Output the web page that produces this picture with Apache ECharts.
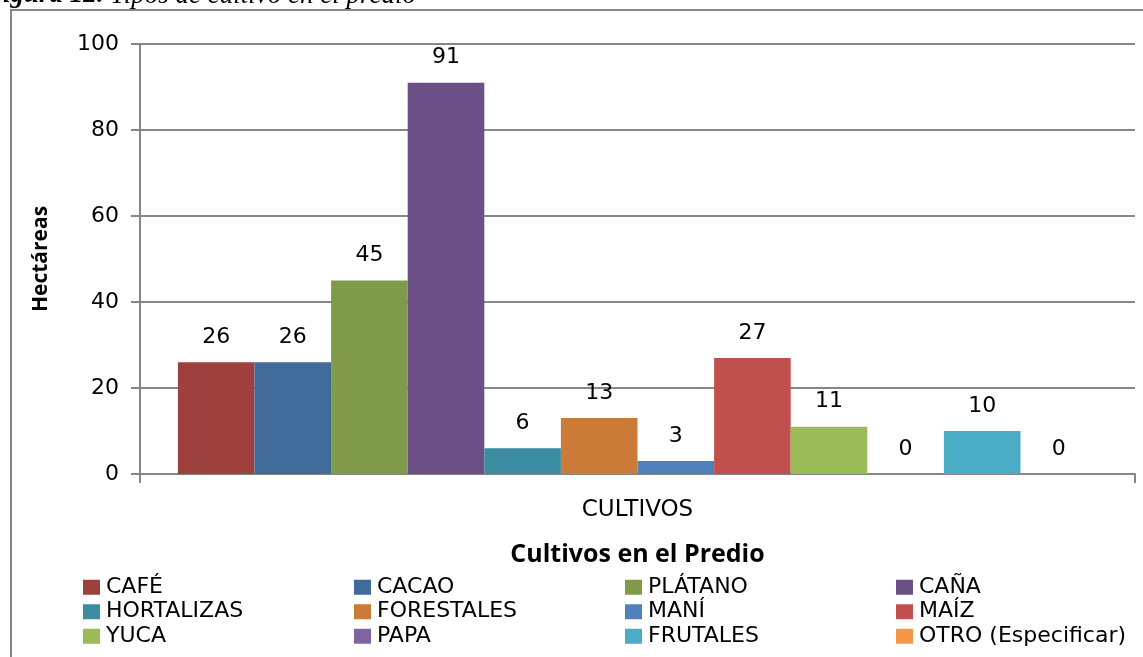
<!DOCTYPE html>
<html>
<head>
<meta charset="utf-8">
<script src="https://cdn.jsdelivr.net/npm/echarts@6/dist/echarts.min.js"></script>
<style>
  html, body { margin: 0; padding: 0; background: #fff; }
  #chart { width: 1143px; height: 657px; }
</style>
</head>
<body>
<div id="chart"></div>
<script>
const categories = ['CULTIVOS'];
const cropNames = ['CAFÉ', 'CACAO', 'PLÁTANO', 'CAÑA', 'HORTALIZAS', 'FORESTALES',
  'MANÍ', 'MAÍZ', 'YUCA', 'PAPA', 'FRUTALES', 'OTRO (Especificar)'];
const hectares = [26, 26, 45, 91, 6, 13, 3, 27, 11, 0, 10, 0];
const yTicks = [0, 20, 40, 60, 80, 100];

const colors = ['#9e413e', '#3f6a9a', '#7f9a48', '#6a5086', '#3b8ca1', '#cc7a38',
  '#4f81bd', '#c0504d', '#9bbb59', '#8064a2', '#4bacc6', '#f79646'];
// the reference text is a stretched Calibri; DejaVu Sans matches its widths best
const font = '"DejaVu Sans", sans-serif';
const boldFont = '"Open Sans", "Noto Sans", sans-serif';
const gray = '#868686';

const chart = echarts.init(document.getElementById('chart'));

const series = cropNames.map((name, i) => ({
  name,
  type: 'bar',
  data: [hectares[i]],
  barWidth: 76.6,
  barGap: '0%',
  itemStyle: { color: colors[i] },
  label: {
    show: true,
    position: 'top',
    distance: 14,
    color: '#000',
    fontFamily: font,
    fontSize: 22,
  },
}));

chart.setOption({
  animation: false,
  color: colors,
  graphic: [
    {
      type: 'rect',
      shape: { x: 11, y: 10, width: 1200, height: 700 },
      style: { fill: 'none', stroke: gray, lineWidth: 2 },
      silent: true,
    },
    {
      type: 'text',
      x: -15,
      y: 9,
      style: {
        text: '{b|Figura 12.} Tipos de cultivo en el predio',
        font: 'italic 27px "Liberation Serif", serif',
        verticalAlign: 'bottom',
        fill: '#000',
        rich: { b: { fontWeight: 'bold', fontStyle: 'italic', fontSize: 27, fontFamily: '"Liberation Serif", serif' } },
      },
    },
  ],
  grid: { left: 140, right: 8, top: 44, bottom: 183 },
  legend: {
    data: cropNames,
    left: 83,
    top: 575,
    width: 1090,
    padding: 0,
    itemWidth: 17,
    itemHeight: 15,
    itemGap: 0,
    icon: 'rect',
    textStyle: {
      fontFamily: font,
      fontSize: 22,
      color: '#000',
      width: 248,
      lineHeight: 24.5,
      padding: [0, 0, 0, 1],
    },
  },
  xAxis: {
    type: 'category',
    data: categories,
    name: 'Cultivos en el Predio',
    nameLocation: 'middle',
    nameGap: 68,
    nameTextStyle: { fontFamily: boldFont, fontSize: 25, fontWeight: 'bold', color: '#000' },
    axisLine: { lineStyle: { color: gray, width: 2 } },
    axisTick: { show: true, length: 9, lineStyle: { color: gray, width: 2 } },
    axisLabel: { margin: 25, fontFamily: font, fontSize: 23, color: '#000' },
  },
  yAxis: {
    type: 'value',
    min: yTicks[0],
    max: yTicks[yTicks.length - 1],
    interval: yTicks[1] - yTicks[0],
    name: 'Hectáreas',
    nameLocation: 'middle',
    nameGap: 88,
    nameTextStyle: { fontFamily: boldFont, fontSize: 21, fontWeight: 'bold', color: '#000' },
    axisLine: { show: true, lineStyle: { color: gray, width: 2 } },
    axisTick: { show: true, length: 9, lineStyle: { color: gray, width: 2 } },
    axisLabel: { margin: 21, fontFamily: font, fontSize: 22, color: '#000' },
    splitLine: { show: true, lineStyle: { color: gray, width: 2 } },
  },
  series,
});
</script>
</body>
</html>
